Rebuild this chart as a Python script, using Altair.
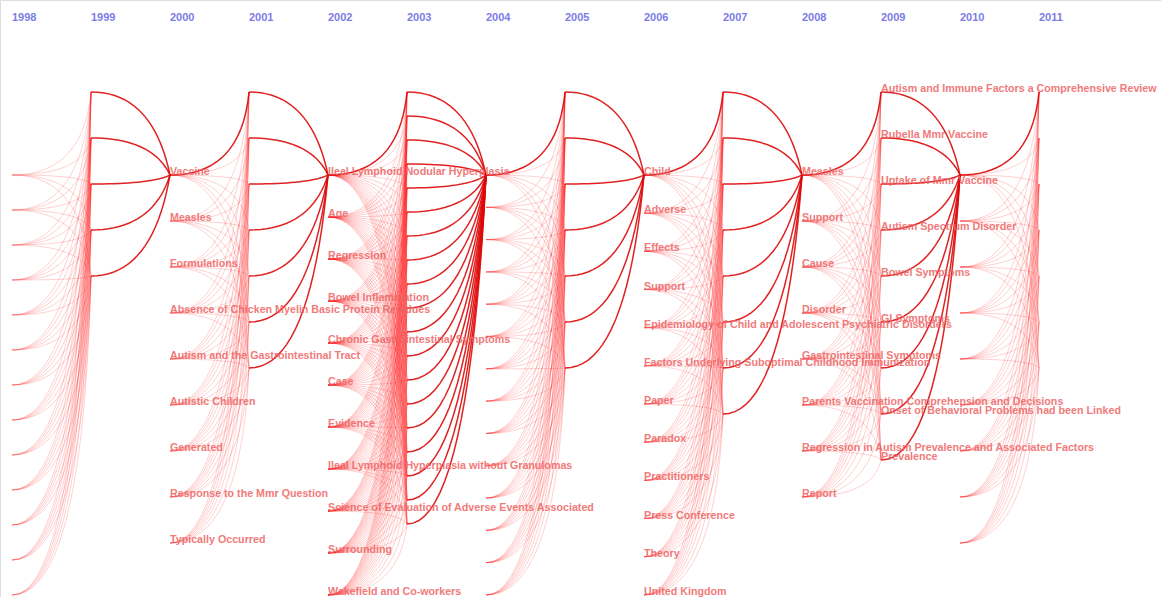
import altair as alt
import pandas as pd

# Year columns of the flow, left to right
years = list(range(1998, 2012))

# Number of keyword nodes stacked in each year column
node_counts = {
    1998: 13, 1999: 5, 2000: 9, 2001: 7, 2002: 11, 2003: 19, 2004: 14,
    2005: 7, 2006: 12, 2007: 8, 2008: 8, 2009: 9, 2010: 9, 2011: 7,
}

# Keyword labels shown next to the nodes ("" = node without a label)
labels_2000 = [
    "Vaccine", "Measles", "Formulations",
    "Absence of Chicken Myelin Basic Protein Residues",
    "Autism and the Gastrointestinal Tract", "Autistic Children",
    "Generated", "Response to the Mmr Question", "Typically Occurred",
]
labels_2002 = [
    "Ileal Lymphoid Nodular Hyperplasia", "Age", "Regression",
    "Bowel Inflammation", "Chronic Gastrointestinal Symptoms", "Case",
    "Evidence", "Ileal Lymphoid Hyperplasia without Granulomas",
    "Science of Evaluation of Adverse Events Associated", "Surrounding",
    "Wakefield and Co-workers",
]
labels_2006 = [
    "Child", "Adverse", "Effects", "Support",
    "Epidemiology of Child and Adolescent Psychiatric Disorders",
    "Factors Underlying Suboptimal Childhood Immunization", "Paper",
    "Paradox", "Practitioners", "Press Conference", "Theory",
    "United Kingdom",
]
labels_2008 = [
    "Measles", "Support", "Cause", "Disorder", "Gastrointestinal Symptoms",
    "Parents Vaccination Comprehension and Decisions",
    "Regression in Autism Prevalence and Associated Factors", "Report",
]
labels_2009 = [
    "Autism and Immune Factors a Comprehensive Review",
    "Rubella Mmr Vaccine", "Uptake of Mmr Vaccine",
    "Autism Spectrum Disorder", "Bowel Symptoms", "GI Symptoms", "",
    "Onset of Behavioral Problems had been Linked", "Prevalence",
]
column_labels = {
    2000: labels_2000, 2002: labels_2002, 2006: labels_2006,
    2008: labels_2008, 2009: labels_2009,
}

# ---- layout of the node stacks (vertical units = pixels of the view) ----
EVEN_TOP, EVEN_SPAN = 175, 420
ODD_TOP, ODD_SPAN = 92, 432
MAX_STEP = 46
# horizontal position of each curve's control point between its two columns
BEND_SPREAD = 0.9   # even year -> odd year: arrive almost vertically
BEND_MERGE = 0.78   # odd year -> hub of the next year


def slot_y(year, i):
    n = node_counts[year]
    top, span = (EVEN_TOP, EVEN_SPAN) if year % 2 == 0 else (ODD_TOP, ODD_SPAN)
    step = min(MAX_STEP, span / (n - 1))
    return top + i * step


# ---- edges ----
rows = []
eid = 0
for y0 in years[:-1]:
    y1 = y0 + 1
    if y0 % 2 == 0:
        # every keyword of an even year flows into every node of the next year
        for i in range(node_counts[y0]):
            for j in range(node_counts[y1]):
                rows.append(dict(edge=eid, kind="flow", bend=BEND_SPREAD,
                                 x0=y0, y0=slot_y(y0, i), x1=y1, y1=slot_y(y1, j)))
                eid += 1
        # the hub of the even year feeds the top node of the next year
        if y0 >= 2000:
            rows.append(dict(edge=eid, kind="main", bend=BEND_SPREAD,
                             x0=y0, y0=slot_y(y0, 0), x1=y1, y1=slot_y(y1, 0)))
            eid += 1
    else:
        # every node of an odd year merges into the hub of the next year
        for i in range(node_counts[y0]):
            rows.append(dict(edge=eid, kind="main", bend=BEND_MERGE,
                             x0=y0, y0=slot_y(y0, i), x1=y1, y1=slot_y(y1, 0)))
            eid += 1
edges = pd.DataFrame(rows)

label_rows = []
for yr, labs in column_labels.items():
    for i, lab in enumerate(labs):
        if lab:
            label_rows.append(dict(year=yr, y=slot_y(yr, i), text=lab))
labels_df = pd.DataFrame(label_rows)

years_df = pd.DataFrame({"year": years, "y": [18] * len(years),
                         "text": [str(y) for y in years]})

W, H = 1161, 597
x_scale = alt.Scale(domain=[1998, 2011], range=[12, 1039])
y_scale = alt.Scale(domain=[0, H], range=[0, H])


def curve_layer(kind, **mark_kw):
    # quadratic Bezier from each source node to its target node
    return (
        alt.Chart(edges)
        .transform_filter(alt.datum.kind == kind)
        .transform_calculate(t="sequence(0, 1.001, 0.05)")
        .transform_flatten(["t"])
        .transform_calculate(cx="datum.x0 + datum.bend*(datum.x1 - datum.x0)")
        .transform_calculate(
            px="(1-datum.t)*(1-datum.t)*datum.x0 + 2*datum.t*(1-datum.t)*datum.cx + datum.t*datum.t*datum.x1",
            py="(1-datum.t)*(1-datum.t)*datum.y0 + 2*datum.t*(1-datum.t)*datum.y0 + datum.t*datum.t*datum.y1",
        )
        .mark_line(**mark_kw)
        .encode(
            x=alt.X("px:Q", scale=x_scale, axis=None),
            y=alt.Y("py:Q", scale=y_scale, axis=None),
            detail="edge:N",
            order="t:Q",
        )
    )


flows = curve_layer("flow", color="#ff1a1a", strokeWidth=1, opacity=0.2)
mains = curve_layer("main", color="#dd0a0a", strokeWidth=1.5, opacity=0.9)

word_text = (
    alt.Chart(labels_df)
    .mark_text(align="left", baseline="alphabetic", font="Liberation Sans",
               fontWeight="bold", fontSize=10.7, color="#ee6464", opacity=0.85)
    .encode(
        x=alt.X("year:Q", scale=x_scale, axis=None),
        y=alt.Y("y:Q", scale=y_scale, axis=None),
        text="text:N",
    )
)

year_text = (
    alt.Chart(years_df)
    .mark_text(align="left", baseline="middle", font="Liberation Sans",
               fontWeight="bold", fontSize=11, color="#7c7ce6")
    .encode(
        x=alt.X("year:Q", scale=x_scale, axis=None),
        y=alt.Y("y:Q", scale=y_scale, axis=None),
        text="text:N",
    )
)

chart = (
    alt.layer(flows, mains, word_text, year_text)
    .properties(width=W, height=H, padding=0, autosize=alt.AutoSizeParams(type="none"))
    .configure_view(stroke=None)
    .configure(background="white")
)

chart.save("out.html", embed_options={"renderer": "svg", "actions": False})
